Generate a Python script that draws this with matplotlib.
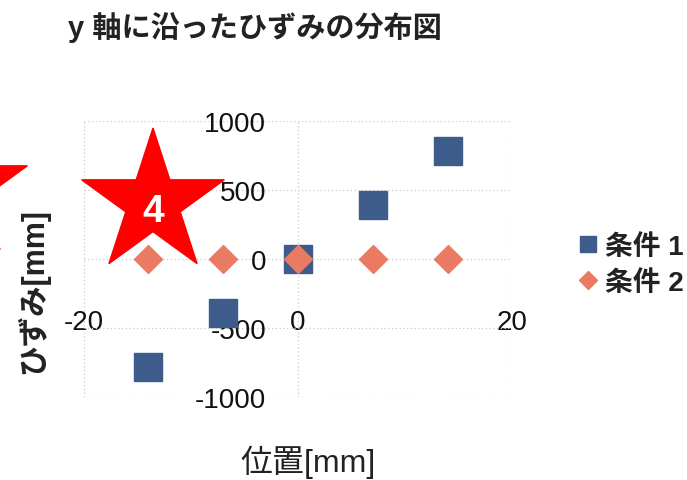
import numpy as np
import matplotlib
matplotlib.use("Agg")
import matplotlib.pyplot as plt
from matplotlib.patches import Polygon

# ---- data ----
positions = [-14, -7, 0, 7, 14]
strain_case1 = [-780, -390, 0, 390, 780]
strain_case2 = [0, 0, 0, 0, 0]
series_labels = ["条件 1", "条件 2"]
x_ticks = [-20, 0, 20]
y_ticks = [-1000, -500, 0, 500, 1000]

plt.rcParams["font.family"] = ["Liberation Sans", "Noto Sans CJK JP", "DejaVu Sans"]
plt.rcParams["axes.unicode_minus"] = False

W, H = 687, 481
fig = plt.figure(figsize=(W / 100, H / 100), dpi=100)
ax = fig.add_axes([84 / W, 1 - 398 / H, (512 - 84) / W, (398 - 122) / H])

ax.plot(positions, strain_case1, "s", ms=20, color="#3d5c8b",
        label=series_labels[0], zorder=3)
ax.plot(positions, strain_case2, "D", ms=14.5, color="#ea7a62",
        label=series_labels[1], zorder=4)

ax.set_xlim(-20, 20)
ax.set_ylim(-1000, 1000)
ax.set_xticks(x_ticks)
ax.set_yticks(y_ticks)
ax.grid(True, linestyle=(0, (1, 2)), color="#c9c9c9", linewidth=0.9, zorder=0)

# axes cross at the origin, spine lines hidden
ax.spines["left"].set_position(("data", 0))
ax.spines["bottom"].set_position(("data", -460))
for s in ax.spines.values():
    s.set_color("none")
ax.tick_params(axis="both", length=0, labelsize=20, colors="#111111")
ax.tick_params(axis="y", pad=23)
ax.tick_params(axis="x", pad=0)
for lbl in ax.get_xticklabels():
    lbl.set_verticalalignment("center")

leg = ax.legend(loc="center left", bbox_to_anchor=(580 / W, 1 - 266 / H),
                bbox_transform=fig.transFigure, frameon=False, fontsize=20,
                markerscale=0.6, handlelength=0.6, handletextpad=0.3,
                labelspacing=0.35, borderpad=0, borderaxespad=0)
for t in leg.get_texts():
    t.set_fontweight("bold")
    t.set_color("#222222")

fig.text(68 / W, 1 - 28 / H, "y 軸に沿ったひずみの分布図", fontsize=21,
         fontweight="bold", va="center", ha="left", color="#222222")
fig.text(308 / W, 1 - 462 / H, "位置[mm]", fontsize=23, ha="center",
         va="center", color="#222222")
fig.text(33 / W, 1 - 291 / H, "ひずみ[mm]", fontsize=22, rotation=90,
         ha="center", va="center", fontweight="bold", color="#222222")

# red star badges on top
ov = fig.add_axes([0, 0, 1, 1], zorder=5)
ov.set_xlim(0, W)
ov.set_ylim(H, 0)
ov.axis("off")


def star(cx, cy, r):
    ang = np.deg2rad(-90 + 36 * np.arange(10))
    rad = np.where(np.arange(10) % 2 == 0, r, r * 0.382)
    return np.column_stack([cx + rad * np.cos(ang), cy + rad * np.sin(ang)])


ov.add_patch(Polygon(star(153, 204, 75), closed=True, color="#ff0000"))
ov.add_patch(Polygon(star(-44, 190, 75), closed=True, color="#ff0000"))
ov.text(153, 212, "4", color="white", fontsize=28, fontweight="bold",
        ha="center", va="center")

fig.savefig("out.png", dpi=100)
